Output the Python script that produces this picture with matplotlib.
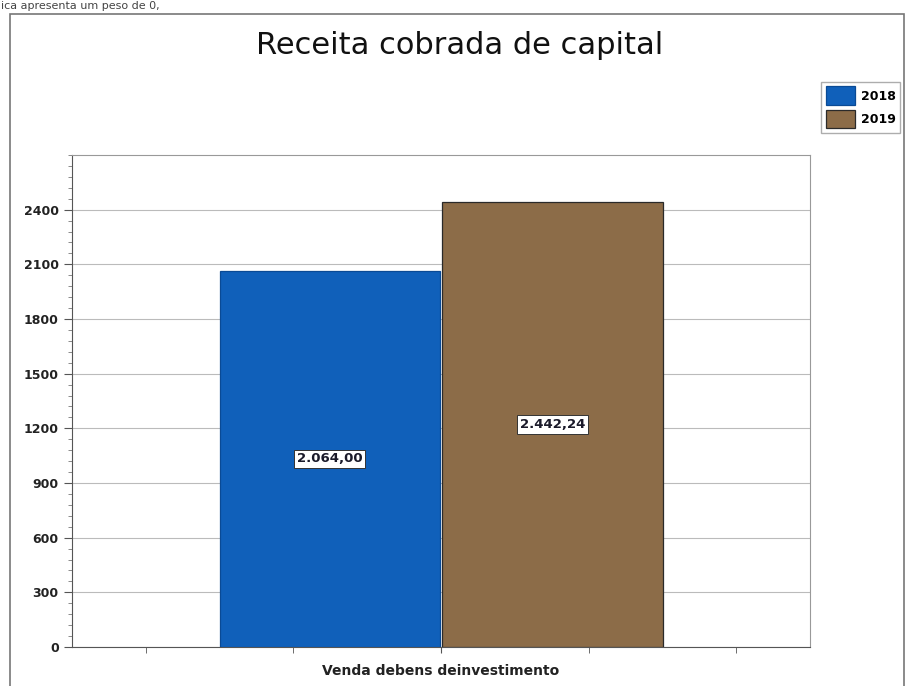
import matplotlib
matplotlib.use("Agg")
import matplotlib.pyplot as plt
from matplotlib.patches import Rectangle
from matplotlib.ticker import MultipleLocator, FixedLocator

title = "Receita cobrada de capital"
category = "Venda debens deinvestimento"
series = ["2018", "2019"]
values = [2064.00, 2442.24]
value_labels = ["2.064,00", "2.442,24"]
colors = ["#1060BA", "#8C6C48"]
edge_colors = ["#0A4A95", "#2a2a2a"]
yticks = [0, 300, 600, 900, 1200, 1500, 1800, 2100, 2400]

W, H = 907, 686
fig = plt.figure(figsize=(W / 100, H / 100), dpi=100)
fig.patch.set_facecolor("white")

# scanned header fragment
fig.text(0.001, 0.999, "ica apresenta um peso de 0,", fontsize=8, color="#444444",
         ha="left", va="top")

# outer frame
fig.add_artist(Rectangle((10 / W, -0.01), (904 - 10) / W, (H - 14) / H + 0.01,
                         transform=fig.transFigure, fill=False,
                         edgecolor="#777777", linewidth=1.2))

ax = fig.add_axes([72 / W, (H - 647) / H, (810 - 72) / W, (647 - 155) / H])
ax.set_xlim(0, 1)
ax.set_ylim(0, 2700)

positions = [0.3495, 0.6515]
bars = []
for x, v, c, ec, s in zip(positions, values, colors, edge_colors, series):
    b = ax.bar(x, v, width=0.299, color=c, edgecolor=ec, linewidth=0.9,
               label=s, zorder=3)
    bars.append(b)

for x, v, lab in zip(positions, values, value_labels):
    ax.text(x, v / 2, lab, ha="center", va="center", fontsize=9.5,
            fontweight="semibold", color="#1a1a2a", zorder=5,
            bbox=dict(boxstyle="square,pad=0.2", facecolor="white",
                      edgecolor="#333333", linewidth=0.7))

ax.yaxis.set_major_locator(FixedLocator(yticks))
ax.yaxis.set_minor_locator(MultipleLocator(60))
ax.set_yticklabels([str(t) for t in yticks], fontsize=9, fontweight="bold",
                   color="#222222")
ax.tick_params(axis="y", which="major", length=6, color="#555555", direction="out")
ax.tick_params(axis="y", which="minor", length=3, color="#777777", direction="out")

ax.xaxis.set_major_locator(FixedLocator([0.5]))
ax.set_xticklabels([category], fontsize=10, fontweight="bold", color="#222222")
ax.xaxis.set_minor_locator(FixedLocator([0.1, 0.3, 0.7, 0.9]))
ax.tick_params(axis="x", which="both", length=4, color="#555555", direction="out", pad=8)

ax.grid(axis="y", which="major", color="#bbbbbb", linewidth=0.8, zorder=0)
for side in ["top", "right"]:
    ax.spines[side].set_color("#999999")
for side in ["left", "bottom"]:
    ax.spines[side].set_color("#555555")

fig.text(460 / W, (H - 45) / H, title, fontsize=22, ha="center", va="center",
         color="#111111")

leg = fig.legend(handles=[b[0] for b in bars], labels=series,
                 loc="upper right", bbox_to_anchor=(900 / W, (H - 82) / H),
                 prop={"weight": "bold", "size": 9},
                 frameon=True, fancybox=False, edgecolor="#999999",
                 handlelength=2.3, handleheight=1.9, borderpad=0.35,
                 labelspacing=0.4, handletextpad=0.5, borderaxespad=0)
leg.get_frame().set_linewidth(1.0)

fig.savefig("out.png", dpi=100, facecolor="white")
